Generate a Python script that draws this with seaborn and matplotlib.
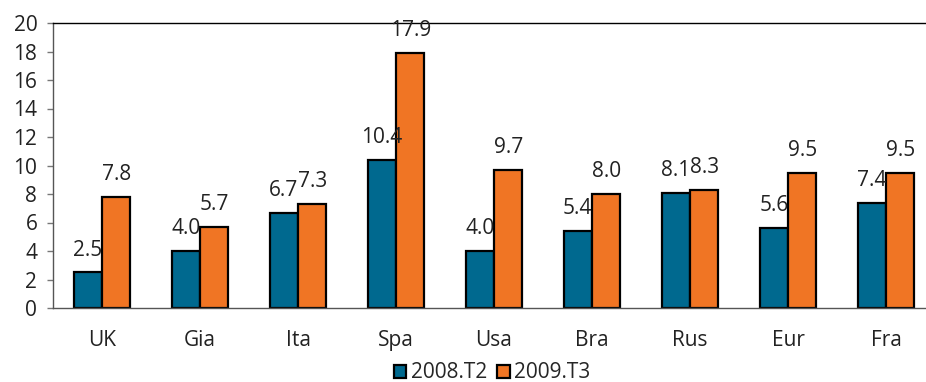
import matplotlib
matplotlib.use("Agg")
import matplotlib.pyplot as plt
import seaborn as sns
import pandas as pd
import numpy as np
from matplotlib.patches import Patch

categories = ["UK", "Gia", "Ita", "Spa", "Usa", "Bra", "Rus", "Eur", "Fra"]
series_names = ["2008.T2", "2009.T3"]
values_2008 = [2.5, 4.0, 6.7, 10.4, 4.0, 5.4, 8.1, 5.6, 7.4]
values_2009 = [7.8, 5.7, 7.3, 17.9, 9.7, 8.0, 8.3, 9.5, 9.5]
y_ticks = [0, 2, 4, 6, 8, 10, 12, 14, 16, 18, 20]

colors = ["#00698F", "#F07524"]
FS = 15

df = pd.DataFrame({
    "country": categories * 2,
    "period": [series_names[0]] * len(categories) + [series_names[1]] * len(categories),
    "value": values_2008 + values_2009,
})

sns.set_theme(style="white")
plt.rcParams["font.family"] = ["Open Sans", "DejaVu Sans"]

fig = plt.figure(figsize=(9.26, 3.82), dpi=100)
ax = fig.add_axes([53 / 926, 74 / 382, 882 / 926, 285 / 382])

sns.barplot(data=df, x="country", y="value", hue="period", order=categories,
            hue_order=series_names, palette=colors, width=0.58, gap=0,
            edgecolor="black", linewidth=1.6, saturation=1, ax=ax, legend=False)

for cont in ax.containers:
    ax.bar_label(cont, fmt="%.1f", padding=8.5, fontsize=FS, color="#222222")

ax.set_xlim(-0.5, len(categories) - 0.5)
ax.set_ylim(0, 20)
ax.set_yticks(y_ticks)
ax.set_yticklabels([str(t) for t in y_ticks], fontsize=FS, color="#222222")
ax.set_xticks(range(len(categories)))
ax.set_xticklabels(categories, fontsize=FS, color="#222222")
ax.set_xticks(np.arange(-0.5, len(categories)), minor=True)
ax.tick_params(axis="x", which="major", length=0, pad=16)
ax.tick_params(axis="x", which="minor", length=4, width=1, color="#555555", direction="out")
ax.tick_params(axis="y", length=4.3, width=1, color="#777777", direction="out", pad=7, left=True)
ax.set_xlabel("")
ax.set_ylabel("")

for side in ["left", "bottom"]:
    ax.spines[side].set_color("#555555")
    ax.spines[side].set_linewidth(1)
ax.spines["top"].set_color("black")
ax.spines["top"].set_linewidth(1)
ax.spines["right"].set_visible(False)

handles = [Patch(facecolor=c, edgecolor="black", linewidth=1.6) for c in colors]
fig.legend(handles, series_names, loc="center", bbox_to_anchor=(492 / 926, 1 - 373 / 382),
           ncol=2, frameon=False, fontsize=FS, handlelength=0.6, handleheight=0.6,
           handletextpad=0.2, columnspacing=0.5, borderaxespad=0)

fig.savefig("out.png", dpi=100)
